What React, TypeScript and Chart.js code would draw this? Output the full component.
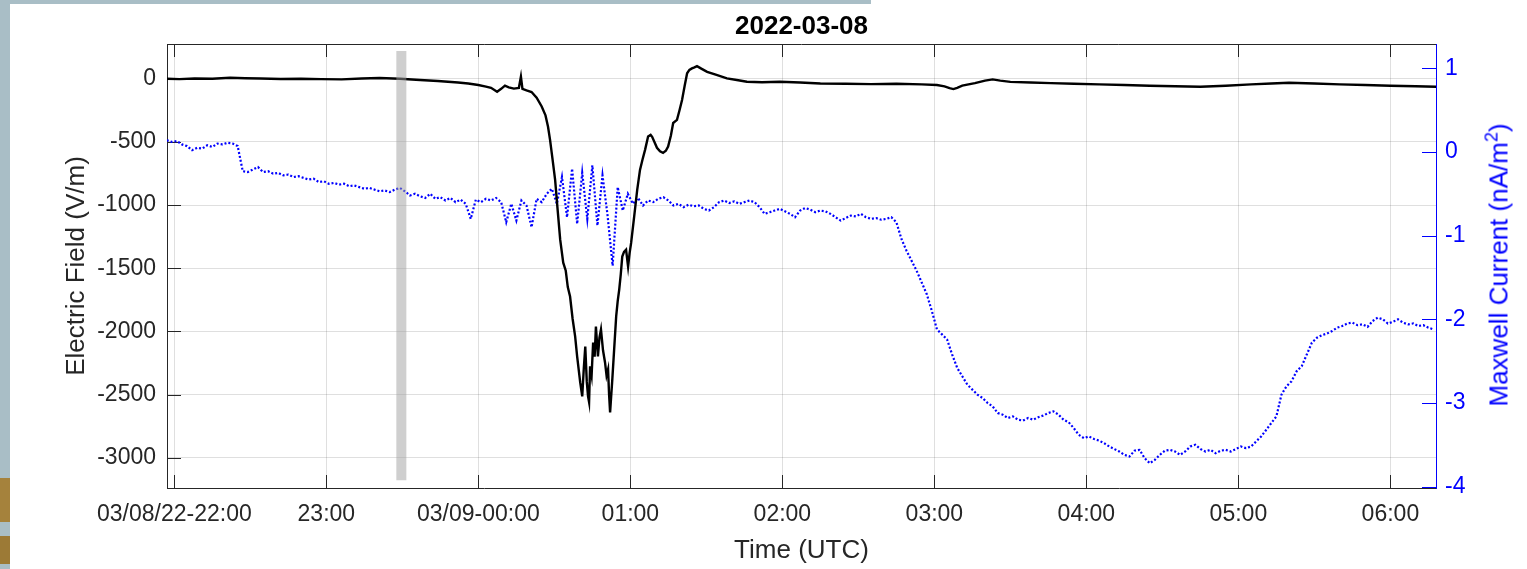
import React, { useEffect, useRef } from "react";
import { Chart, registerables } from "chart.js";

Chart.register(...registerables);

const FONT = '"Liberation Sans", Arial, Helvetica, sans-serif';
const AXIS = "#262626";
const BLUE = "#0000ff";

// Time axis: minutes after 2022-03-08 22:00 UTC
const xMin = -2.9;
const xMax = 498;
const xTickMinutes = [0, 60, 120, 180, 240, 300, 360, 420, 480];
const xTickLabels = ["03/08/22-22:00", "23:00", "03/09-00:00", "01:00", "02:00", "03:00", "04:00", "05:00", "06:00"];

// Axis ticks
const leftTicks = [-3000, -2500, -2000, -1500, -1000, -500, 0];
const rightTicks = [-4, -3, -2, -1, 0, 1];

// Electric field (V/m), left axis
const efTimes = [
  -2.9, 2, 8, 15, 22, 28, 34, 42, 50, 58, 66, 74, 81, 89, 97, 104, 108, 112, 116, 120,
  123, 125, 127.4, 129, 130.5, 132, 134, 136, 136.8, 137.4, 139, 141, 143, 145, 146.5, 147.5, 148.3, 149.3, 150.3, 151.3,
  152.3, 153.5, 154.5, 155.3, 156.2, 157.2, 158.2, 159, 160.2, 161, 161.6, 162.2, 162.8, 163.3, 163.7, 164.1, 164.7, 165.3, 165.9, 166.4,
  167.2, 167.8, 168.4, 169.2, 170, 170.6, 171.2, 171.6, 172, 172.4, 172.8, 173.6, 174.4, 175, 175.6, 176.2, 176.8, 177.5, 178.3, 179.1,
  179.7, 180.3, 181.5, 182.7, 183.8, 184.8, 185.8, 187, 188, 188.6, 189.5, 190.5, 191.7, 192.9, 194, 194.9, 196, 196.9, 198.4, 199.4,
  200.4, 201.4, 202.4, 203.3, 204.3, 205.3, 206.3, 208, 210.3, 214, 218.1, 222, 226, 232, 239, 247, 255, 265, 275, 285,
  295, 301, 304, 306, 307.5, 309, 311, 316, 320, 323, 326, 330, 338, 346, 355, 365, 375, 385, 395, 405,
  415, 425, 433, 440, 450, 460, 470, 480, 490, 498,
];
const efValues = [
  0, -3, 2, 0, 8, 4, 2, -2, 0, -3, -5, 2, 6, 0, -10, -18, -24, -30, -38, -50,
  -62, -72, -103, -80, -55, -68, -78, -72, 16, -80, -92, -105, -150, -220, -290, -380, -484, -640, -800, -1040,
  -1274, -1456, -1520, -1650, -1724, -1900, -2040, -2200, -2404, -2515, -2300, -2120, -2400, -2515, -2560, -2277, -2350, -2088, -2200, -1962,
  -2198, -2050, -1985, -2150, -2246, -2350, -2301, -2500, -2641, -2520, -2404, -2143, -1882, -1760, -1669, -1550, -1408, -1370, -1353, -1487,
  -1380, -1300, -1092, -880, -722, -640, -563, -458, -445, -460, -500, -547, -575, -587, -570, -537, -450, -350, -326, -250,
  -168, -60, 43, 70, 82, 90, 100, 80, 55, 30, 3, -10, -24, -28, -24, -30, -38, -40, -43, -40,
  -45, -50, -60, -75, -82, -72, -55, -35, -15, -5, -15, -25, -30, -35, -40, -45, -50, -55, -60, -63,
  -55, -45, -38, -32, -38, -45, -50, -55, -60, -63,
];

// Maxwell current (nA/m^2), right axis, sampled every 2 minutes from -3 min
const mcStartMinute = -3;
const mcStepMinutes = 2;
const mcValues = [
  0.14, 0.12, 0.13, 0.09, 0.07, 0.02, 0.05, 0.04, 0.08, 0.06,
  0.10, 0.09, 0.11, 0.10, 0.07, -0.23, -0.24, -0.21, -0.18, -0.24,
  -0.23, -0.26, -0.25, -0.28, -0.27, -0.30, -0.29, -0.31, -0.33, -0.32,
  -0.36, -0.35, -0.38, -0.37, -0.39, -0.38, -0.41, -0.40, -0.42, -0.44,
  -0.43, -0.45, -0.47, -0.46, -0.48, -0.45, -0.43, -0.47, -0.52, -0.50,
  -0.53, -0.55, -0.50, -0.56, -0.54, -0.58, -0.55, -0.60, -0.57, -0.62,
  -0.80, -0.57, -0.60, -0.56, -0.58, -0.55, -0.60, -0.84, -0.62, -0.82,
  -0.58, -0.64, -0.90, -0.56, -0.60, -0.50, -0.44, -0.62, -0.30, -0.78,
  -0.20, -0.86, -0.25, -0.80, -0.16, -0.88, -0.28, -0.76, -1.36, -0.42,
  -0.70, -0.50, -0.62, -0.55, -0.64, -0.58, -0.60, -0.56, -0.54, -0.58,
  -0.64, -0.62, -0.66, -0.63, -0.65, -0.64, -0.68, -0.70, -0.66, -0.60,
  -0.58, -0.61, -0.59, -0.62, -0.60, -0.58, -0.60, -0.66, -0.74, -0.72,
  -0.70, -0.68, -0.71, -0.74, -0.78, -0.70, -0.67, -0.69, -0.72, -0.70,
  -0.71, -0.74, -0.78, -0.82, -0.79, -0.76, -0.77, -0.74, -0.78, -0.80,
  -0.79, -0.81, -0.80, -0.78, -0.84, -1.04, -1.18, -1.30, -1.42, -1.56,
  -1.70, -1.90, -2.12, -2.18, -2.24, -2.42, -2.58, -2.68, -2.78, -2.84,
  -2.90, -2.94, -3.00, -3.04, -3.12, -3.14, -3.18, -3.16, -3.20, -3.21,
  -3.18, -3.20, -3.17, -3.15, -3.12, -3.10, -3.14, -3.20, -3.23, -3.30,
  -3.38, -3.42, -3.40, -3.43, -3.45, -3.48, -3.52, -3.55, -3.58, -3.62,
  -3.64, -3.57, -3.56, -3.66, -3.72, -3.68, -3.62, -3.57, -3.56, -3.58,
  -3.62, -3.58, -3.52, -3.50, -3.55, -3.58, -3.56, -3.60, -3.57, -3.56,
  -3.58, -3.55, -3.52, -3.54, -3.52, -3.46, -3.40, -3.32, -3.24, -3.16,
  -2.90, -2.80, -2.74, -2.62, -2.56, -2.42, -2.28, -2.22, -2.19, -2.17,
  -2.14, -2.10, -2.08, -2.05, -2.04, -2.07, -2.06, -2.09, -2.02, -1.98,
  -2.00, -2.05, -2.03, -2.00, -2.04, -2.06, -2.05, -2.08, -2.07, -2.10, -2.12,
];

// Gray marker band (time, left-axis extent)
const markerMinute = 89.6;
const markerTop = 219;
const markerBottom = -3178;

// Axis limits
const leftMin = -3240;
const leftMax = 275;
const rightMin = -4.016;
const rightMax = 1.29;

const inwardTicks = {
  id: "inwardTicks",
  beforeDatasetsDraw(chart: any) {
    const { ctx, chartArea, scales } = chart;
    const { left, right, top, bottom } = chartArea;
    ctx.save();
    ctx.lineWidth = 1;
    ctx.strokeStyle = AXIS;
    ctx.beginPath();
    ctx.moveTo(left, top + 0.5);
    ctx.lineTo(right, top + 0.5);
    scales.x.ticks.forEach((t: any) => {
      const px = Math.round(scales.x.getPixelForValue(t.value)) + 0.5;
      ctx.moveTo(px, bottom);
      ctx.lineTo(px, bottom - 13);
      ctx.moveTo(px, top);
      ctx.lineTo(px, top + 13);
    });
    scales.y.ticks.forEach((t: any) => {
      const py = Math.round(scales.y.getPixelForValue(t.value)) + 0.5;
      ctx.moveTo(left, py);
      ctx.lineTo(left + 14, py);
    });
    ctx.stroke();
    ctx.strokeStyle = BLUE;
    ctx.beginPath();
    scales.y1.ticks.forEach((t: any) => {
      const py = Math.round(scales.y1.getPixelForValue(t.value)) + 0.5;
      ctx.moveTo(right, py);
      ctx.lineTo(right - 14, py);
    });
    ctx.stroke();
    ctx.restore();
  },
};

export default function App() {
  const canvasRef = useRef<HTMLCanvasElement | null>(null);

  useEffect(() => {
    if (!canvasRef.current) return;
    const chart = new Chart(canvasRef.current, {
      type: "line",
      data: {
        datasets: [
          {
            label: "marker",
            data: [
              { x: markerMinute, y: markerTop },
              { x: markerMinute, y: markerBottom },
            ],
            borderColor: "rgba(160,160,160,0.5)",
            borderWidth: 10,
            borderCapStyle: "butt",
            pointRadius: 0,
            yAxisID: "y",
          },
          {
            label: "Electric Field",
            data: efTimes.map((t, i) => ({ x: t, y: efValues[i] })),
            borderColor: "#000000",
            borderWidth: 2.4,
            pointRadius: 0,
            tension: 0,
            yAxisID: "y",
          },
          {
            label: "Maxwell Current",
            data: mcValues.map((v, i) => ({ x: mcStartMinute + i * mcStepMinutes, y: v })),
            borderColor: BLUE,
            borderWidth: 2.2,
            borderDash: [2, 2],
            pointRadius: 0,
            tension: 0,
            yAxisID: "y1",
          },
        ],
      },
      options: {
        animation: false,
        responsive: false,
        devicePixelRatio: 1,
        layout: { padding: 0 },
        plugins: {
          legend: { display: false },
          tooltip: { enabled: false },
          title: {
            display: true,
            text: "2022-03-08",
            fullSize: false,
            color: "#000000",
            font: { family: FONT, size: 26, weight: "bold" },
            padding: { top: 11, bottom: 1.8 },
          },
        },
        scales: {
          x: {
            type: "linear",
            min: xMin,
            max: xMax,
            afterFit: (s: any) => {
              s.height = 81;
            },
            afterBuildTicks: (s: any) => {
              s.ticks = xTickMinutes.map((v) => ({ value: v }));
            },
            ticks: {
              autoSkip: false,
              maxRotation: 0,
              minRotation: 0,
              padding: 13,
              color: AXIS,
              font: { family: FONT, size: 23 },
              callback: (v: any) => {
                const i = xTickMinutes.indexOf(Number(v));
                return i >= 0 ? xTickLabels[i] : "";
              },
            },
            grid: { color: "rgba(38,38,38,0.15)", drawTicks: false, lineWidth: 1 },
            border: { display: true, color: AXIS, width: 1 },
            title: {
              display: true,
              text: "Time (UTC)",
              color: AXIS,
              font: { family: FONT, size: 26 },
              padding: { top: 0, bottom: 2.4 },
            },
          },
          y: {
            type: "linear",
            position: "left",
            min: leftMin,
            max: leftMax,
            afterFit: (s: any) => {
              s.width = 167;
            },
            afterBuildTicks: (s: any) => {
              s.ticks = leftTicks.map((v) => ({ value: v }));
            },
            ticks: {
              autoSkip: false,
              padding: 11,
              color: AXIS,
              font: { family: FONT, size: 23 },
              callback: (v: any) => String(v),
            },
            grid: { color: "rgba(38,38,38,0.15)", drawTicks: false, lineWidth: 1 },
            border: { display: true, color: AXIS, width: 1 },
            title: {
              display: true,
              text: "Electric Field (V/m)",
              color: AXIS,
              font: { family: FONT, size: 26 },
              padding: { top: 61, bottom: 0 },
            },
          },
          y1: {
            type: "linear",
            position: "right",
            min: rightMin,
            max: rightMax,
            afterFit: (s: any) => {
              s.width = 91;
            },
            afterBuildTicks: (s: any) => {
              s.ticks = rightTicks.map((v) => ({ value: v }));
            },
            ticks: {
              autoSkip: false,
              padding: 9,
              color: BLUE,
              font: { family: FONT, size: 23 },
              callback: (v: any) => String(v),
            },
            grid: { display: false, drawTicks: false },
            border: { display: true, color: BLUE, width: 1 },
          },
        },
      } as any,
      plugins: [inwardTicks],
    });
    return () => chart.destroy();
  }, []);

  return (
    <div
      style={{
        position: "absolute",
        left: 0,
        top: 0,
        width: 1527,
        height: 569,
        background: "#ffffff",
        overflow: "hidden",
      }}
    >
      <div style={{ position: "absolute", left: 0, top: 0, width: 871, height: 4, background: "#a9bec6" }} />
      <div style={{ position: "absolute", left: 0, top: 0, width: 10, height: 569, background: "#a9bec6" }} />
      <div style={{ position: "absolute", left: 0, top: 478, width: 10, height: 44, background: "#a5823c" }} />
      <div style={{ position: "absolute", left: 0, top: 536, width: 10, height: 28, background: "#9c7a36" }} />
      <canvas
        ref={canvasRef}
        width={1527}
        height={569}
        style={{ position: "absolute", left: 0, top: 0, width: 1527, height: 569 }}
      />
      <div
        style={{
          position: "absolute",
          left: 1500,
          top: 265,
          transform: "translate(-50%, -50%) rotate(-90deg)",
          color: BLUE,
          fontFamily: FONT,
          fontSize: 26,
          lineHeight: "26px",
          whiteSpace: "nowrap",
        }}
      >
        Maxwell Current (nA/m
        <span style={{ fontSize: 18, position: "relative", top: -10 }}>2</span>)
      </div>
    </div>
  );
}
